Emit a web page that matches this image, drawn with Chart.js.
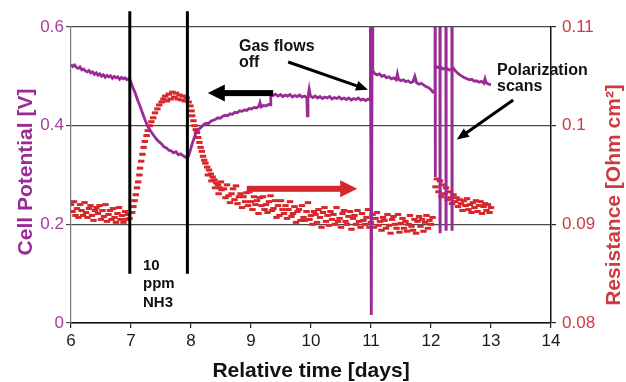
<!DOCTYPE html>
<html>
<head>
<meta charset="utf-8">
<script src="https://cdn.jsdelivr.net/npm/chart.js@4.4.1/dist/chart.umd.min.js"></script>
<style>
  html, body { margin: 0; padding: 0; background: #ffffff; }
  canvas { display: block; }
</style>
</head>
<body>
<canvas id="chart" width="626" height="382"></canvas>
<script>
// Tick values for each axis
const dayTicks = [6, 7, 8, 9, 10, 11, 12, 13, 14];
const potentialTicks = [0, 0.2, 0.4, 0.6];
const resistanceTicks = [0.08, 0.09, 0.1, 0.11];

// Cell potential [V] against relative time [days]
const cellPotential = [
  [6.00,0.524],[6.03,0.520],[6.06,0.523],[6.09,0.518],[6.12,0.516],[6.15,0.519],[6.18,0.513],
  [6.21,0.515],[6.24,0.511],[6.27,0.509],[6.30,0.512],[6.33,0.507],[6.36,0.509],[6.39,0.504],
  [6.42,0.507],[6.45,0.502],[6.48,0.505],[6.51,0.500],[6.54,0.503],[6.57,0.498],[6.60,0.502],
  [6.63,0.499],[6.66,0.501],[6.69,0.496],[6.72,0.500],[6.75,0.497],[6.78,0.499],[6.81,0.494],
  [6.84,0.498],[6.87,0.495],[6.90,0.497],[6.93,0.493],[6.96,0.495],[6.99,0.491],
  [7.03,0.478],[7.07,0.466],[7.11,0.452],[7.15,0.440],[7.19,0.426],[7.23,0.413],[7.27,0.401],
  [7.31,0.392],[7.35,0.385],[7.39,0.378],[7.43,0.372],[7.47,0.367],[7.51,0.363],[7.55,0.357],
  [7.59,0.355],[7.63,0.350],[7.67,0.349],[7.71,0.345],[7.75,0.347],[7.79,0.341],[7.83,0.343],
  [7.87,0.339],[7.91,0.336],[7.94,0.333],
  [7.97,0.342],[8.00,0.355],[8.03,0.367],[8.06,0.378],[8.09,0.386],[8.12,0.391],[8.15,0.395],
  [8.18,0.398],[8.21,0.402],[8.25,0.405],[8.29,0.404],[8.33,0.409],[8.37,0.411],[8.41,0.413],
  [8.45,0.416],[8.49,0.415],[8.53,0.419],[8.57,0.421],[8.61,0.420],[8.65,0.424],[8.69,0.423],
  [8.73,0.427],[8.77,0.426],[8.81,0.430],[8.85,0.429],[8.89,0.432],[8.93,0.431],[8.97,0.435],
  [9.01,0.434],[9.05,0.437],[9.09,0.436],[9.13,0.439],[9.15,0.447],[9.17,0.438],[9.21,0.441],
  [9.25,0.440],[9.29,0.443],[9.32,0.442],
  [9.33,0.462],[9.37,0.461],[9.41,0.464],[9.45,0.460],[9.49,0.463],[9.53,0.459],[9.57,0.462],
  [9.61,0.460],[9.65,0.463],[9.69,0.458],[9.73,0.461],[9.77,0.459],[9.81,0.462],[9.85,0.458],
  [9.89,0.460],[9.93,0.457],[9.94,0.420],[9.95,0.458],[9.97,0.474],[9.99,0.460],[10.03,0.457],
  [10.07,0.460],[10.11,0.456],[10.15,0.459],[10.19,0.455],[10.23,0.458],[10.27,0.456],
  [10.31,0.459],[10.35,0.454],[10.39,0.457],[10.43,0.455],[10.47,0.458],[10.51,0.454],
  [10.55,0.456],[10.59,0.453],[10.63,0.456],[10.67,0.452],[10.71,0.455],[10.75,0.453],
  [10.79,0.456],[10.83,0.452],[10.87,0.454],[10.91,0.451],[10.95,0.454],[10.985,0.452],
  [10.99,0.600],[11.005,0.016],[11.02,0.600],[11.03,0.512],
  [11.06,0.506],[11.10,0.503],[11.14,0.505],[11.18,0.500],[11.22,0.502],[11.26,0.497],
  [11.30,0.499],[11.34,0.495],[11.38,0.497],[11.42,0.493],[11.44,0.505],[11.46,0.494],
  [11.50,0.491],[11.54,0.493],[11.58,0.489],[11.62,0.491],[11.66,0.487],[11.70,0.489],
  [11.73,0.500],[11.76,0.487],[11.80,0.484],[11.84,0.486],[11.88,0.482],[11.92,0.479],
  [11.96,0.477],[12.00,0.473],[12.03,0.468],[12.066,0.470],
  [12.068,0.600],[12.070,0.296],[12.072,0.600],[12.074,0.522],[12.11,0.518],[12.146,0.519],
  [12.148,0.600],[12.150,0.185],[12.152,0.600],[12.154,0.520],[12.20,0.515],[12.246,0.516],
  [12.248,0.600],[12.250,0.190],[12.252,0.600],[12.254,0.517],[12.30,0.513],[12.346,0.514],
  [12.348,0.600],[12.350,0.190],[12.352,0.600],[12.354,0.520],
  [12.40,0.512],[12.44,0.507],[12.48,0.503],[12.52,0.500],[12.56,0.497],[12.60,0.495],
  [12.64,0.493],[12.68,0.494],[12.72,0.490],[12.76,0.491],[12.80,0.488],[12.84,0.490],
  [12.88,0.486],[12.90,0.495],[12.92,0.487],[12.96,0.484],[13.00,0.483]
];

// Resistance [Ohm cm2] against relative time [days]
const resistance = [
  [6.000,0.0920],[6.025,0.0913],[6.050,0.0923],[6.075,0.0909],[6.100,0.0916],[6.125,0.0907],
  [6.150,0.0920],[6.175,0.0914],[6.200,0.0909],[6.225,0.0922],[6.250,0.0912],[6.275,0.0907],
  [6.300,0.0916],[6.325,0.0919],[6.350,0.0909],[6.375,0.0904],[6.400,0.0914],[6.425,0.0917],
  [6.450,0.0911],[6.475,0.0919],[6.500,0.0905],[6.525,0.0914],[6.550,0.0908],[6.575,0.0920],
  [6.600,0.0903],[6.625,0.0910],[6.650,0.0914],[6.675,0.0905],[6.700,0.0916],[6.725,0.0907],
  [6.750,0.0902],[6.775,0.0911],[6.800,0.0917],[6.825,0.0905],[6.850,0.0909],[6.875,0.0902],
  [6.900,0.0913],[6.925,0.0905],[6.950,0.0910],[6.975,0.0906],
  [7.02,0.0912],[7.04,0.0918],[7.06,0.0924],[7.08,0.0930],[7.10,0.0937],[7.12,0.0943],
  [7.14,0.0950],[7.15,0.0957],[7.17,0.0964],[7.19,0.0971],[7.21,0.0978],[7.23,0.0984],
  [7.26,0.0990],[7.28,0.0995],[7.31,0.1000],[7.34,0.1004],[7.37,0.1008],[7.40,0.1013],
  [7.44,0.1017],[7.47,0.1021],[7.51,0.1024],[7.54,0.1027],
  [7.57,0.1030],[7.60,0.1025],[7.63,0.1032],[7.66,0.1027],[7.69,0.1034],[7.72,0.1029],
  [7.75,0.1033],[7.78,0.1027],[7.81,0.1031],[7.84,0.1026],[7.87,0.1030],[7.90,0.1025],
  [7.93,0.1028],[7.96,0.1024],
  [7.99,0.1020],[8.01,0.1015],[8.02,0.1010],[8.04,0.1005],[8.06,0.1000],[8.08,0.0996],
  [8.10,0.0993],[8.12,0.0988],[8.14,0.0983],[8.16,0.0978],[8.18,0.0974],[8.20,0.0969],
  [8.22,0.0965],[8.24,0.0962],[8.27,0.0958],[8.30,0.0955],[8.33,0.0951],[8.36,0.0948],
  [8.39,0.0945],[8.42,0.0942],[8.45,0.0940],[8.48,0.0937],[8.51,0.0935],
  [8.28,0.0950],[8.34,0.0944],[8.40,0.0937],[8.46,0.0931],[8.50,0.0943],
  [8.550,0.0936],[8.575,0.0927],[8.600,0.0940],[8.625,0.0929],[8.650,0.0922],[8.675,0.0931],
  [8.700,0.0936],[8.725,0.0925],[8.750,0.0939],[8.775,0.0921],[8.800,0.0928],[8.825,0.0931],
  [8.850,0.0917],[8.875,0.0928],[8.900,0.0923],[8.925,0.0932],[8.950,0.0919],[8.975,0.0933],
  [9.000,0.0923],[9.025,0.0915],[9.050,0.0928],[9.075,0.0920],[9.100,0.0924],[9.125,0.0911],
  [9.150,0.0927],[9.175,0.0919],[9.200,0.0928],[9.225,0.0915],[9.250,0.0920],[9.275,0.0912],
  [9.300,0.0923],[9.325,0.0929],[9.350,0.0914],[9.375,0.0916],[9.400,0.0924],[9.425,0.0907],
  [9.450,0.0919],[9.475,0.0909],[9.500,0.0924],[9.525,0.0915],[9.550,0.0911],[9.575,0.0919],
  [9.600,0.0906],[9.625,0.0915],[9.650,0.0923],[9.675,0.0908],[9.700,0.0911],[9.725,0.0918],
  [9.750,0.0902],[9.775,0.0913],[9.800,0.0915],[9.825,0.0904],[9.850,0.0919],[9.875,0.0907],
  [9.900,0.0904],[9.925,0.0913],[9.950,0.0922],[9.975,0.0905],[10.000,0.0909],[10.025,0.0900],
  [10.050,0.0913],[10.075,0.0910],[10.100,0.0902],[10.125,0.0915],[10.150,0.0907],[10.175,0.0897],
  [10.200,0.0912],[10.225,0.0917],[10.250,0.0903],[10.275,0.0909],[10.300,0.0899],[10.325,0.0913],
  [10.350,0.0905],[10.375,0.0910],[10.400,0.0900],[10.425,0.0917],[10.450,0.0903],[10.475,0.0906],
  [10.500,0.0897],[10.525,0.0911],[10.550,0.0914],[10.575,0.0903],[10.600,0.0900],[10.625,0.0908],
  [10.650,0.0913],[10.675,0.0895],[10.700,0.0906],[10.725,0.0909],[10.750,0.0900],[10.775,0.0914],
  [10.800,0.0903],[10.825,0.0897],[10.850,0.0911],[10.875,0.0904],[10.900,0.0900],[10.925,0.0907],
  [10.950,0.0915],[10.975,0.0897],
  [11.000,0.0902],[11.025,0.0910],[11.050,0.0897],[11.075,0.0906],[11.100,0.0912],[11.125,0.0899],
  [11.150,0.0903],[11.175,0.0894],[11.200,0.0907],[11.225,0.0904],[11.250,0.0896],[11.275,0.0910],
  [11.300,0.0899],[11.325,0.0891],[11.350,0.0905],[11.375,0.0908],[11.400,0.0900],[11.425,0.0896],
  [11.450,0.0910],[11.475,0.0892],[11.500,0.0901],[11.525,0.0906],[11.550,0.0896],[11.575,0.0903],
  [11.600,0.0893],[11.625,0.0900],[11.650,0.0909],[11.675,0.0898],[11.700,0.0894],[11.725,0.0905],
  [11.750,0.0891],[11.775,0.0903],[11.800,0.0908],[11.825,0.0898],[11.850,0.0905],[11.875,0.0893],
  [11.900,0.0902],[11.925,0.0909],[11.950,0.0896],[11.975,0.0904],[12.000,0.0900],[12.025,0.0907],
  [12.075,0.0938],[12.100,0.0946],[12.125,0.0933],[12.150,0.0944],[12.175,0.0928],[12.200,0.0940],
  [12.225,0.0931],[12.250,0.0937],[12.275,0.0925],[12.300,0.0933],[12.325,0.0927],[12.350,0.0921],
  [12.375,0.0930],[12.400,0.0923],[12.425,0.0927],[12.450,0.0918],[12.475,0.0925],[12.500,0.0921],
  [12.525,0.0914],[12.550,0.0924],[12.575,0.0919],[12.600,0.0926],[12.625,0.0915],[12.650,0.0920],
  [12.675,0.0912],[12.700,0.0922],[12.725,0.0917],[12.750,0.0924],[12.775,0.0913],[12.800,0.0919],
  [12.825,0.0923],[12.850,0.0911],[12.875,0.0918],[12.900,0.0921],[12.925,0.0914],[12.950,0.0920],
  [12.975,0.0912],[13.000,0.0917]
];

// Start and end of the 10 ppm NH3 exposure [days]
const ammoniaWindow = [6.98, 7.94];
// Vertical extent of the exposure markers [V]
const ammoniaMarkerRange = [0.1, 0.632];

const PURPLE = '#9a2a96';
const PURPLE_TEXT = '#a23f9d';
const RED = '#d6282b';
const RED_TEXT = '#cf3a40';
const FONT = '"Liberation Sans", Arial, Helvetica, sans-serif';

const markerSets = ammoniaWindow.map(d => ({
  type: 'line',
  data: ammoniaMarkerRange.map(v => ({ x: d, y: v })),
  yAxisID: 'y',
  borderColor: '#000000',
  borderWidth: 3,
  pointRadius: 0,
  clip: false,
  order: 0
}));

// Arrow helper: shaft plus filled triangular head
function drawArrow(ctx, x0, y0, x1, y1, shaft, headLen, headW, color) {
  const a = Math.atan2(y1 - y0, x1 - x0);
  const len = Math.hypot(x1 - x0, y1 - y0);
  ctx.save();
  ctx.translate(x0, y0);
  ctx.rotate(a);
  ctx.fillStyle = color;
  ctx.fillRect(0, -shaft / 2, len - headLen + 1, shaft);
  ctx.beginPath();
  ctx.moveTo(len, 0);
  ctx.lineTo(len - headLen, -headW / 2);
  ctx.lineTo(len - headLen, headW / 2);
  ctx.closePath();
  ctx.fill();
  ctx.restore();
}

const overlay = {
  id: 'overlay',
  afterDatasetsDraw(chart) {
    const { ctx, scales: { x, y, y1 } } = chart;
    const px = d => x.getPixelForValue(d);
    const pv = v => y.getPixelForValue(v);
    const pr = r => y1.getPixelForValue(r);

    // direction arrows: which axis each trace belongs to
    drawArrow(ctx, px(9.37), pv(0.466), px(8.28), pv(0.466), 6, 17, 17, '#000000');
    drawArrow(ctx, px(8.93), pr(0.0936), px(10.77), pr(0.0936), 6, 17, 17, RED);

    // callout arrows
    drawArrow(ctx, px(9.62), pv(0.529), px(10.95), pv(0.473), 3, 12, 10, '#000000');
    drawArrow(ctx, px(13.37), pv(0.452), px(12.43), pv(0.372), 3, 12, 10, '#000000');

    ctx.save();
    ctx.fillStyle = '#111111';
    ctx.textAlign = 'left';
    ctx.textBaseline = 'alphabetic';
    ctx.font = 'bold 16px ' + FONT;
    ctx.fillText('Gas flows', px(8.8), pv(0.552));
    ctx.fillText('off', px(8.8), pv(0.518));
    ctx.fillText('Polarization', px(13.1), pv(0.502));
    ctx.fillText('scans', px(13.1), pv(0.471));
    ctx.font = 'bold 15px ' + FONT;
    ctx.fillText('10', px(7.2), pv(0.108));
    ctx.fillText('ppm', px(7.2), pv(0.07));
    ctx.fillText('NH3', px(7.2), pv(0.032));
    ctx.restore();
  },
  afterDraw(chart) {
    const { ctx, chartArea } = chart;
    ctx.save();
    ctx.font = 'bold 21px ' + FONT;
    ctx.textAlign = 'center';
    ctx.textBaseline = 'alphabetic';

    ctx.fillStyle = '#111111';
    ctx.fillText('Relative time [days]', (chartArea.left + chartArea.right) / 2, 377);

    ctx.save();
    ctx.translate(32, 172);
    ctx.rotate(-Math.PI / 2);
    ctx.fillStyle = PURPLE;
    ctx.fillText('Cell Potential [V]', 0, 0);
    ctx.restore();

    ctx.save();
    ctx.translate(620, 195);
    ctx.rotate(-Math.PI / 2);
    ctx.fillStyle = RED_TEXT;
    ctx.fillText('Resistance [Ohm cm\u00B2]', 0, 0);
    ctx.restore();

    ctx.restore();
  }
};

const fmt = v => String(parseFloat(Number(v).toFixed(4)));

new Chart(document.getElementById('chart'), {
  type: 'line',
  data: {
    datasets: [
      ...markerSets,
      {
        label: 'Cell Potential',
        data: cellPotential.map(([d, v]) => ({ x: d, y: v })),
        yAxisID: 'y',
        borderColor: PURPLE,
        borderWidth: 2.8,
        pointRadius: 0,
        tension: 0,
        order: 1
      },
      {
        label: 'Resistance',
        data: resistance.map(([d, r]) => ({ x: d, y: r })),
        yAxisID: 'y1',
        showLine: false,
        pointStyle: 'line',
        pointRadius: 3.2,
        pointBorderWidth: 3,
        borderColor: RED,
        backgroundColor: RED,
        order: 2
      }
    ]
  },
  options: {
    responsive: false,
    animation: false,
    devicePixelRatio: 1,
    layout: { padding: { top: 27, left: 0, right: 0, bottom: 0 } },
    plugins: { legend: { display: false }, tooltip: { enabled: false } },
    scales: {
      x: {
        type: 'linear',
        min: 6, max: 14,
        afterBuildTicks: s => { s.ticks = dayTicks.map(v => ({ value: v })); },
        afterFit: s => { s.height = 59; },
        ticks: { color: '#1a1a1a', font: { family: FONT, size: 17 }, padding: 3, maxRotation: 0, callback: v => fmt(v) },
        grid: { drawOnChartArea: false, drawTicks: true, tickLength: 5, color: '#222222', lineWidth: 1.2 },
        border: { color: '#111111', width: 1.5 }
      },
      y: {
        position: 'left',
        min: 0, max: 0.6,
        afterBuildTicks: s => { s.ticks = potentialTicks.map(v => ({ value: v })); },
        afterFit: s => { s.width = 71; },
        ticks: { color: PURPLE_TEXT, font: { family: FONT, size: 17 }, padding: 2, callback: v => fmt(v) },
        grid: { color: '#4a4a4a', lineWidth: 1.2, tickLength: 5 },
        border: { color: '#777777', width: 1.2 }
      },
      y1: {
        position: 'right',
        min: 0.08, max: 0.11,
        afterBuildTicks: s => { s.ticks = resistanceTicks.map(v => ({ value: v })); },
        afterFit: s => { s.width = 75; },
        ticks: { color: RED_TEXT, font: { family: FONT, size: 17 }, padding: 6, callback: v => fmt(v) },
        grid: { drawOnChartArea: false, drawTicks: true, tickLength: 5, color: '#222222', lineWidth: 1.2 },
        border: { color: '#111111', width: 1.5 }
      }
    }
  },
  plugins: [overlay]
});
</script>
</body>
</html>
